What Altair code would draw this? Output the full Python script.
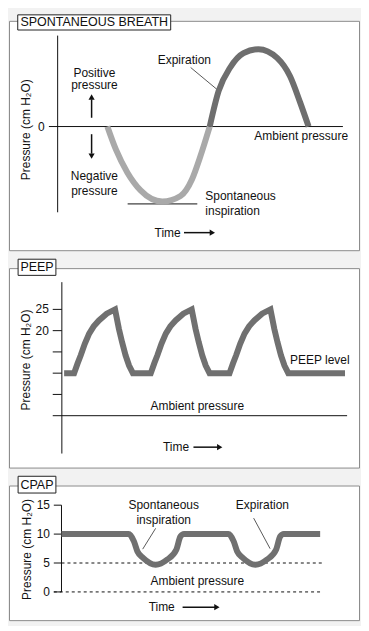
import altair as alt
import pandas as pd

FONT = "Liberation Sans"
W = 351
XD = [0, 100]

# ---------------- data ----------------
# Panel 1: spontaneous breath (arbitrary pressure units, 0 = ambient)
insp_t = [28.1, 30.5, 33.8, 37.6, 43.8, 49.0, 52.3, 54.7, 57.35]
insp_p = [0, -2.84, -5.75, -8.0, -9.4, -8.7, -6.6, -3.7, 0]
exp_t = [57.35, 59.9, 63.2, 67.0, 71.3, 76.6, 80.3, 83.2, 85.6]
exp_p = [0, 4.46, 7.4, 9.2, 9.7, 8.6, 6.3, 3.0, 0]

# Panel 2: PEEP (cm H2O)
peep_t = [15.75, 18.6, 19.6, 20.5, 21.65, 22.9, 24.2, 25.7, 27.9, 30.3, 31.4, 32.3, 33.3, 34.3, 35.4,
          40.5, 41.5, 42.4, 43.55, 44.8, 46.1, 47.6, 49.8, 52.2, 53.3, 54.2, 55.2, 56.2, 57.3,
          63.0, 64.0, 64.9, 66.05, 67.3, 68.6, 70.1, 72.3, 74.7, 75.8, 76.7, 77.7, 78.7, 79.8, 96.0]
peep_p = [10, 10, 12.3, 14.2, 16.9, 19.3, 21.0, 22.4, 24.0, 25, 20.4, 17.3, 14.2, 11.8, 10,
          10, 12.3, 14.2, 16.9, 19.3, 21.0, 22.4, 24.0, 25, 20.4, 17.3, 14.2, 11.8, 10,
          10, 12.3, 14.2, 16.9, 19.3, 21.0, 22.4, 24.0, 25, 20.4, 17.3, 14.2, 11.8, 10, 10]
peep_ticks = [25, 20, 15, 10, 5]
peep_labels = ["25", "20"]

# Panel 3: CPAP (cm H2O)
cpap_t = [15, 34.2, 35.7, 36.7, 38.3, 41.9, 45.2, 47.8, 49.0, 50.0,
          62.7, 64.2, 65.2, 66.8, 70.4, 73.7, 76.3, 77.5, 78.5, 88.9]
cpap_p = [10, 10, 8.74, 7.0, 5.9, 4.7, 5.6, 7.3, 9.6, 10,
          10, 8.74, 7.0, 5.9, 4.7, 5.6, 7.3, 9.6, 10, 10]
cpap_ticks = [15, 10, 5, 0]

YT = "Pressure (cm H\u2082O)"

# ---------------- helpers ----------------
def sx():
    return alt.Scale(domain=XD, nice=False, zero=False)


def sy(d):
    return alt.Scale(domain=d, nice=False, zero=False)


def line(ts, ps, d, color, width, interp="linear", dash=None):
    kw = dict(color=color, strokeWidth=width, interpolate=interp, strokeJoin="miter", strokeCap="butt")
    if dash:
        kw["strokeDash"] = dash
    df = pd.DataFrame({"t": ts, "p": ps, "o": list(range(len(ts)))})
    return alt.Chart(df).mark_line(**kw).encode(
        x=alt.X("t:Q", scale=sx(), axis=None),
        y=alt.Y("p:Q", scale=sy(d), axis=None),
        order="o:Q",
    )


def rules(rows, d, color="#111", width=1.0, dash=None):
    kw = dict(color=color, strokeWidth=width)
    if dash:
        kw["strokeDash"] = dash
    df = pd.DataFrame(rows, columns=["t", "p", "t2", "p2"])
    return alt.Chart(df).mark_rule(**kw).encode(
        x=alt.X("t:Q", scale=sx(), axis=None),
        y=alt.Y("p:Q", scale=sy(d), axis=None),
        x2="t2:Q",
        y2="p2:Q",
    )


def texts(rows, d, align="center", size=12, angle=0, baseline="middle", weight="normal"):
    df = pd.DataFrame(rows, columns=["t", "p", "label"])
    return alt.Chart(df).mark_text(
        align=align, baseline=baseline, fontSize=size, font=FONT, angle=angle,
        color="#111", fontWeight=weight,
    ).encode(
        x=alt.X("t:Q", scale=sx(), axis=None),
        y=alt.Y("p:Q", scale=sy(d), axis=None),
        text="label:N",
    )


def heads(rows, d, shape):
    df = pd.DataFrame(rows, columns=["t", "p"])
    return alt.Chart(df).mark_point(
        shape=shape, filled=True, color="#111", size=38, opacity=1, strokeWidth=0
    ).encode(
        x=alt.X("t:Q", scale=sx(), axis=None),
        y=alt.Y("p:Q", scale=sy(d), axis=None),
    )


def titlebox(t1, t2, p1, p2, label, d):
    df = pd.DataFrame({"t": [t1], "t2": [t2], "p": [p1], "p2": [p2]})
    box = alt.Chart(df).mark_rect(fill="white", stroke="#222", strokeWidth=1).encode(
        x=alt.X("t:Q", scale=sx(), axis=None),
        x2="t2:Q",
        y=alt.Y("p:Q", scale=sy(d), axis=None),
        y2="p2:Q",
    )
    txt = texts([((t1 + t2) / 2, (p1 + p2) / 2, label)], d, size=12.5)
    return [box, txt]


# ---------------- panel 1 ----------------
D1 = [-15.5, 13.25]
p1_layers = [
    rules([(13.9, 11.4, 13.9, -10.75)], D1),            # y axis
    rules([(11.4, 0, 95.4, 0)], D1),                    # ambient line
    rules([(33.9, -9.7, 53.8, -9.7)], D1),              # min marker
    rules([(51.9, 7.4, 60.4, 4.3)], D1, width=0.7),     # leader
    rules([(23.6, 1.1, 23.6, 3.4), (23.6, -0.96, 23.6, -3.4)], D1, width=1.5),
    heads([(23.6, 3.7)], D1, "triangle-up"),
    heads([(23.6, -3.7)], D1, "triangle-down"),
    rules([(50.0, -13.3, 57.8, -13.3)], D1, width=1.5),
    heads([(58.1, -13.3)], D1, "triangle-right"),
    line(insp_t, insp_p, D1, "#a9a9a9", 6, "monotone"),
    line(exp_t, exp_p, D1, "#6e6e6e", 6, "monotone"),
    texts([(10.2, 0, "0")], D1, align="right"),
    texts([(24.4, 6.75, "Positive"), (24.4, 5.16, "pressure"),
           (24.4, -6.25, "Negative"), (24.4, -8.1, "pressure"),
           (50.1, 8.4, "Expiration")], D1),
    texts([(56.1, -8.75, "Spontaneous"), (56.1, -10.6, "inspiration"),
           (70.1, -1.16, "Ambient pressure"), (41.6, -13.3, "Time")], D1, align="left"),
    texts([(4.8, -0.4, YT)], D1, angle=270),
] + titlebox(2.5, 46.2, 14.0, 12.1, "SPONTANEOUS BREATH", D1)
p1 = alt.layer(*p1_layers).properties(width=W, height=230)

# ---------------- panel 2 ----------------
D2 = [-12.2, 34.7]
p2_layers = [
    rules([(15.1, 31.4, 15.1, -8.9)], D2),
    rules([(12.5, v, 15.1, v) for v in peep_ticks], D2),
    rules([(12.5, 0, 96.6, 0)], D2),
    rules([(52.7, -7.4, 59.8, -7.4)], D2, width=1.5),
    heads([(60.2, -7.4)], D2, "triangle-right"),
    line(peep_t, peep_p, D2, "#707070", 6, "linear"),
    texts([(11.4, float(s), s) for s in peep_labels], D2, align="right"),
    texts([(80.3, 13.1, "PEEP level"), (44.0, -7.4, "Time")], D2, align="left"),
    texts([(53.8, 2.3, "Ambient pressure")], D2),
    texts([(4.8, 13.1, YT)], D2, angle=270),
] + titlebox(2.6, 13.4, 36.8, 33.0, "PEEP", D2)
p2 = alt.layer(*p2_layers).properties(width=W, height=200)

# ---------------- panel 3 ----------------
D3 = [-4.88, 18.4]
p3_layers = [
    rules([(15.0, 15, 15.0, 0)], D3),
    rules([(12.8, v, 15.0, v) for v in cpap_ticks], D3),
    rules([(15.0, 5, 89.5, 5), (12.8, 0, 89.5, 0)], D3, dash=[3, 3]),
    rules([(41.9, 11.0, 38.2, 7.4), (69.9, 12.76, 74.6, 7.48)], D3, width=0.7),
    rules([(49.6, -2.64, 59.0, -2.64)], D3, width=1.5),
    heads([(59.4, -2.64)], D3, "triangle-right"),
    line(cpap_t, cpap_p, D3, "#707070", 6, "monotone"),
    texts([(11.7, float(v), str(v)) for v in cpap_ticks], D3, align="right"),
    texts([(44.2, 15.1, "Spontaneous"), (44.2, 12.5, "inspiration"),
           (72.4, 15.1, "Expiration"), (53.8, 1.84, "Ambient pressure")], D3),
    texts([(39.9, -2.64, "Time")], D3, align="left"),
    texts([(5.1, 7.35, YT)], D3, angle=270),
] + titlebox(2.6, 13.4, 20.0, 17.1, "CPAP", D3)
p3 = alt.layer(*p3_layers).properties(width=W, height=135)

chart = alt.vconcat(
    p1, p2, p3,
    spacing=18,
    bounds="flush",
).configure_view(
    stroke="#8c8c8c", strokeWidth=1, fill="white"
).properties(
    background="#f2f2f2",
    padding={"left": 0, "top": 4, "right": 1, "bottom": 4},
)

chart.save("out.html", embed_options={"renderer": "svg", "actions": False})
